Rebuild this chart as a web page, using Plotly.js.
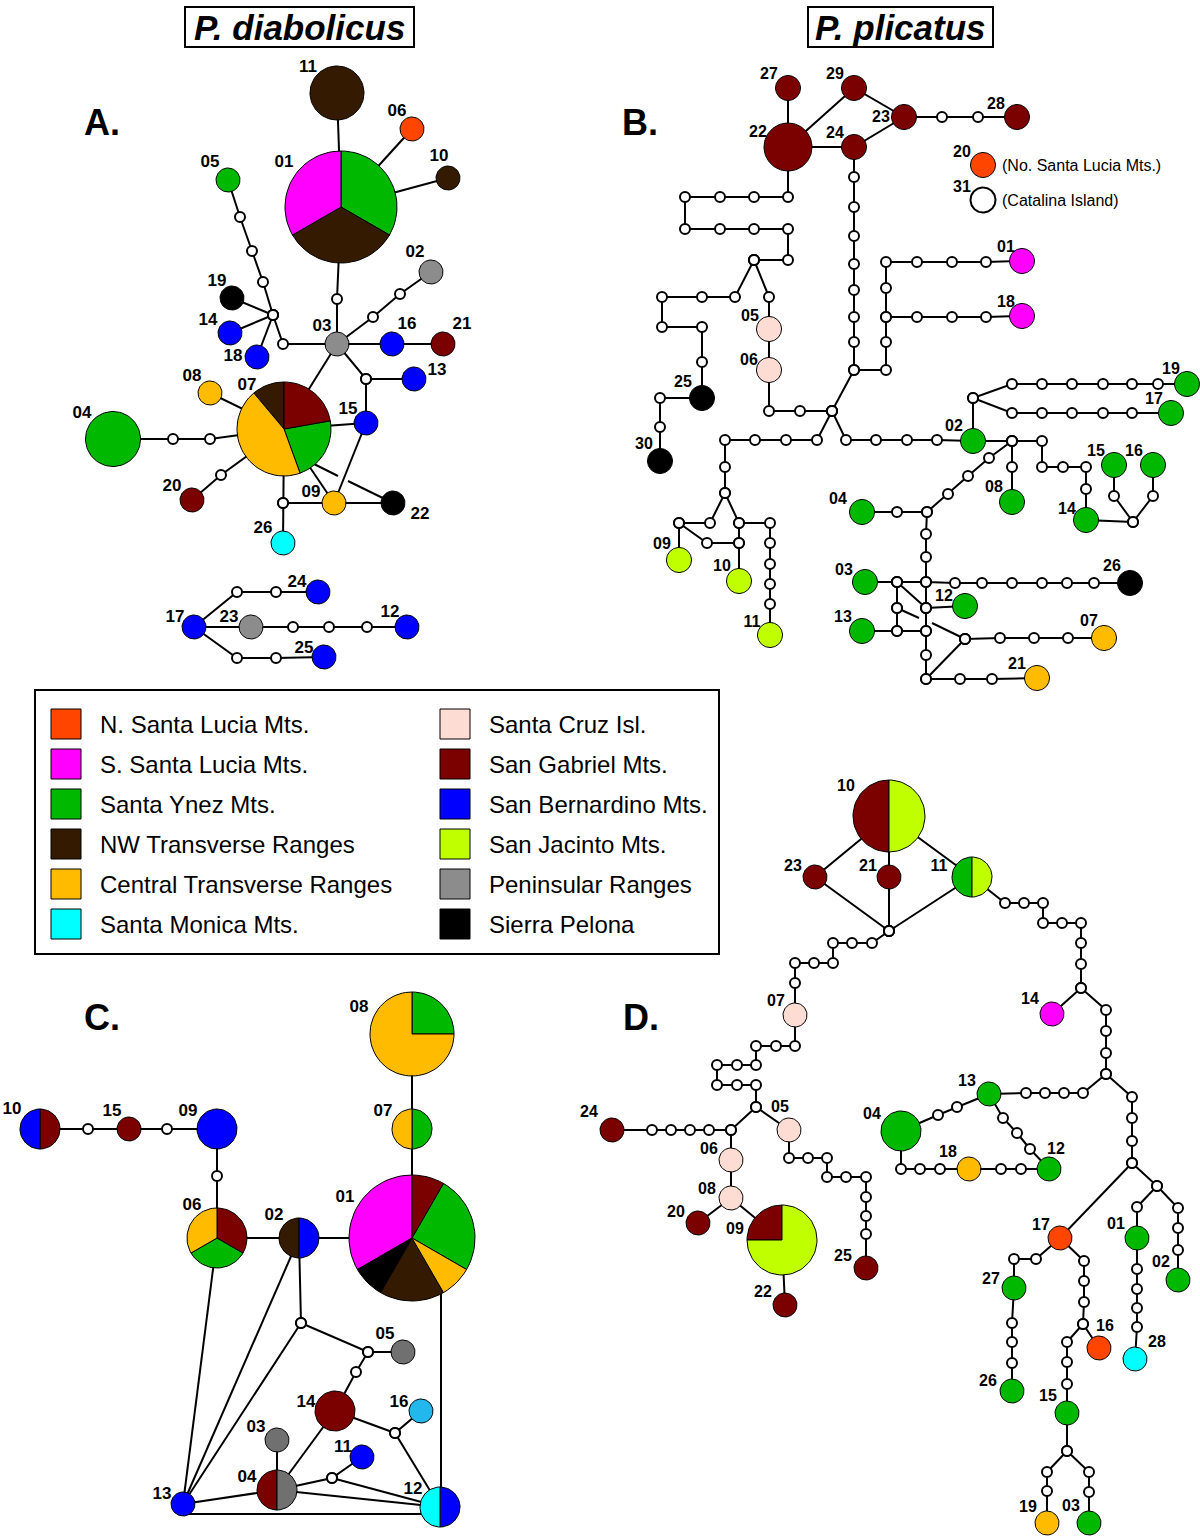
<!DOCTYPE html>
<html><head><meta charset="utf-8">
<script src="https://cdn.plot.ly/plotly-3.0.1.min.js"></script>
<style>html,body{margin:0;padding:0;background:#fff}#chart{width:1200px;height:1537px}</style>
</head><body><div id="chart"></div>
<script>
// ---------- regions (legend) ----------
const REGION_CODES  = ['NSL','SSL','SY','NW','CT','SM','SC','SG','SB','SJ','PR','SP'];
const REGION_NAMES  = ['N. Santa Lucia Mts.','S. Santa Lucia Mts.','Santa Ynez Mts.','NW Transverse Ranges','Central Transverse Ranges','Santa Monica Mts.',
                       'Santa Cruz Isl.','San Gabriel Mts.','San Bernardino Mts.','San Jacinto Mts.','Peninsular Ranges','Sierra Pelona'];
const REGION_COLORS = ['#FF4500','#FF00FF','#00B800','#331A00','#FFBB00','#00FFFF','#FDDCD3','#7B0000','#0000FF','#BFFF00','#8C8C8C','#000000'];
const EXTRA_CODES   = ['CAT','LB','PR2'];
const EXTRA_COLORS  = ['#FFFFFF','#22B8EE','#707070'];

// ---------- haplotype compositions (region code : count) ----------
const A_haps = [['01','SY NW SSL'],['02','PR'],['03','PR'],['04','SY'],['05','SY'],['06','NSL'],['07','SG:2 SY:2 CT:4 NW'],['08','CT'],['09','CT'],
  ['10','NW'],['11','NW'],['12','SB'],['13','SB'],['14','SB'],['15','SB'],['16','SB'],['17','SB'],['18','SB'],['19','SP'],['20','SG'],['21','SG'],
  ['22','SP'],['23','PR'],['24','SB'],['25','SB'],['26','SM']];
const B_haps = [['01','SSL'],['02','SY'],['03','SY'],['04','SY'],['05','SC'],['06','SC'],['07','CT'],['08','SY'],['09','SJ'],['10','SJ'],['11','SJ'],
  ['12','SY'],['13','SY'],['14','SY'],['15','SY'],['16','SY'],['17','SY'],['18','SSL'],['19','SY'],['20','NSL'],['21','CT'],['22','SG'],['23','SG'],
  ['24','SG'],['25','SP'],['26','SP'],['27','SG'],['28','SG'],['29','SG'],['30','SP'],['31','CAT']];
const C_haps = [['01','SG SY:3 CT NW:2 SP SSL:4'],['02','SB NW'],['03','PR2'],['04','PR2 SG'],['05','PR2'],['06','SG SY CT'],['07','SY CT'],
  ['08','SY CT:3'],['09','SB'],['10','SG SB'],['11','SB'],['12','SB SM'],['13','SB'],['14','SG'],['15','SG'],['16','LB']];
const D_haps = [['01','SY'],['02','SY'],['03','SY'],['04','SY'],['05','SC'],['06','SC'],['07','SC'],['08','SC'],['09','SJ:3 SG'],['10','SJ SG'],
  ['11','SJ SY'],['12','SY'],['13','SY'],['14','SSL'],['15','SY'],['16','NSL'],['17','NSL'],['18','CT'],['19','CT'],['20','SG'],['21','SG'],
  ['22','SG'],['23','SG'],['24','SG'],['25','SG'],['26','SY'],['27','SY'],['28','SM']];

// ---------- network layout: [id, x, y, radius, labelX, labelY] ----------
const A_layout = [['01',341,207,56,284,163],['02',431,272,12,415,253],['03',337,344,12,322,327],['04',113,439,27.5,82,414],['05',228,180,12,210,163],
  ['06',412,129,12,397,112],['07',284,429,47,247,386],['08',210,393,12,192,377],['09',334,503,12,311,493],['10',448,178,12,439,157],
  ['11',337,93,27,308,68],['12',407,627,12,390,613],['13',414,379,12,437,371],['14',230,333,12,208,321],['15',366,423,12,348,410],
  ['16',392,344,12,407,325],['17',194,627,12,175,618],['18',257,357,12,233,357],['19',232,298,12,217,282],['20',192,500,12,172,487],
  ['21',443,344,12,462,325],['22',393,503,12,420,515],['23',251,627,12,229,618],['24',318,592,12,297,583],['25',324,657,12,304,649],
  ['26',283,543,12,263,529]];
const B_layout = [['27',788,88,12.5,769,75],['29',854,88,12.5,835,75],['23',904,117,12.5,881,118],['28',1017,117,12.5,996,105],['22',788,147,24,758,133],
  ['24',854,147,12.5,835,134],['20',983,165,12.5,962,153],['31',983,200,12.5,962,188],['01',1022,261,12.5,1006,248],['18',1022,316,12.5,1006,303],
  ['05',769,329,12.5,750,317],['06',769,370,12.5,749,361],['25',702,398,12.5,683,383],['30',660,461,12.5,644,445],['02',973,441,12.5,954,427],
  ['19',1187,384,12.5,1171,370],['17',1171,413,12.5,1154,400],['08',1012,502,12.5,994,488],['15',1114,465,12.5,1096,452],['16',1153,465,12.5,1134,452],
  ['14',1086,520,12.5,1067,510],['04',862,512,12.5,838,500],['09',679,560,12.5,662,545],['10',739,581,12.5,722,567],['11',770,635,12.5,752,623],
  ['03',865,582,12.5,844,571],['26',1130,583,12.5,1112,567],['12',965,606,12.5,944,597],['13',862,631,12.5,843,618],['07',1104,638,12.5,1089,622],
  ['21',1037,678,12.5,1017,665]];
const C_layout = [['08',412,1034,42,359,1008],['07',412,1129,20,383,1112],['01',412,1238,63,345,1198],['09',217,1129,20,188,1112],
  ['15',129,1129,12,112,1112],['10',40,1129,20,12,1110],['06',217,1238,30,192,1206],['02',299,1238,20,274,1216],['13',183,1504,12,162,1495],
  ['04',277,1490,20,247,1478],['03',277,1440,12,256,1428],['14',335,1411,20,306,1403],['11',362,1457,12,343,1448],['16',421,1411,12,399,1403],
  ['05',403,1352,12,385,1335],['12',440,1507,20,413,1490]];
const D_layout = [['10',889,816,36,846,787],['23',815,877,12,793,867],['21',889,877,12,868,867],['11',972,877,20,939,867],['07',795,1015,12,776,1002],
  ['05',789,1130,12,780,1108],['24',612,1130,12,589,1113],['06',731,1160,12,709,1150],['08',731,1198,12,707,1190],['20',698,1223,12,676,1213],
  ['09',782,1240,35,735,1230],['22',785,1305,12,763,1293],['25',866,1268,12,843,1257],['14',1052,1014,12,1030,1000],['13',989,1094,12,967,1082],
  ['04',901,1131,20,872,1115],['12',1049,1169,12,1056,1150],['18',969,1169,12,948,1153],['17',1060,1238,12,1041,1226],['01',1137,1238,12,1116,1225],
  ['02',1178,1280,12,1161,1263],['27',1014,1288,12,991,1280],['26',1012,1391,12,988,1382],['16',1099,1348,12,1105,1327],['28',1135,1359,12,1157,1343],
  ['15',1067,1413,12,1048,1397],['19',1047,1523,12,1028,1508],['03',1089,1523,12,1071,1507]];

// ---------- network paths: haplotype ids and missing (median) haplotypes [x,y]; [x,y,0] = bare line end ----------
const A_paths = [
  ['11','01'],['01','06'],['01','10'],
  ['05',[240,217],[252,251],[263,282],[273,315],[283,344],'03'],
  ['19',[273,315]],['14',[273,315]],['18',[273,315]],
  ['01',[337,299],'03'],
  ['03',[373,317],[400,294],'02'],
  ['03','16','21'],
  ['03',[366,379],'13'],[[366,379],'15'],
  ['03','07'],['07','15'],['08','07'],
  ['04',[173,439],[210,439],'07'],
  ['20',[221,475],'07'],
  ['07',[283,503],'26'],[[283,503],'09'],['07','09'],['09','15'],['09','22'],
  [[312,463,0],[338,476,0]],[[348,481,0],'22'],
  ['17',[237,592],[276,592],'24'],
  ['17','23',[293,627],[329,627],[367,627],'12'],
  ['17',[237,658],[276,658],'25']
];
const B_paths = [
  ['22','27'],['22','29','23'],['22','24','23'],['23',[942,117],[978,117],'28'],
  ['22',[788,197],[754,197],[720,197],[685,197],[685,229],[720,229],[754,229],[788,229],[788,260],[754,260]],
  [[754,260],[735,297],[702,297],[662,297],[662,327],[702,327],[702,362],'25',[660,398],[660,427],'30'],
  [[754,260],[769,297],'05','06',[769,411],[800,411],[832,411]],
  ['24',[854,177],[854,207],[854,236],[854,264],[854,290],[854,317],[854,342],[854,370],[832,411]],
  [[854,370],[886,370],[886,342],[886,317],[886,288],[886,262],[917,262],[952,262],[986,262],'01'],
  [[886,317],[917,317],[952,317],[986,317],'18'],
  [[832,411],[817,440],[786,440],[755,440],[725,440],[725,467],[725,493],[710,523],[679,523],'09'],
  [[725,493],[739,523],[770,523],[770,543],[770,564],[770,584],[770,604],'11'],
  [[739,523],[739,543],'10'],[[679,523],[707,543],[739,543]],
  [[832,411],[846,440],[876,440],[907,440],[937,440],'02',[1012,441],[1042,441],[1042,467],[1063,467],[1086,467],[1086,489],'14',[1133,522],[1114,496],'15'],
  [[1133,522],[1153,496],'16'],
  ['02',[973,398],[1012,384],[1042,384],[1072,384],[1103,384],[1132,384],[1158,384],'19'],
  [[973,398],[1012,413],[1042,413],[1072,413],[1103,413],[1132,413],'17'],
  [[1012,441],[1012,467],'08'],
  [[1012,441],[989,458],[968,476],[948,494],[927,512],[897,512],'04'],
  [[927,512],[926,534],[926,557],[926,582],[926,608],[926,631],[926,655],[926,679],[960,679],[992,679],'21'],
  ['03',[897,582],[926,582],[955,583],[982,583],[1012,583],[1042,583],[1067,583],[1094,583],'26'],
  [[897,582],[897,608],[897,631],'13'],[[897,631],[926,631]],
  [[926,608],'12'],[[897,582],[926,608]],
  [[897,608],[919,618,0]],[[932,623,0],[965,639]],
  [[965,639],[1000,638],[1034,638],[1068,638],'07'],
  [[965,639],[926,679]]
];
const C_paths = [
  ['10',[88,1129],'15',[167,1129],'09',[217,1176],'06','02','01','07','08'],
  ['06','13'],['02','13'],['02',[301,1323],'13'],
  [[301,1323],[368,1352],'05'],[[368,1352],[356,1372],'14'],
  ['03','04'],['04','14'],['04',[332,1478],'11'],[[332,1478],'12'],['04','12'],['13','04'],
  [[183,1514,0],[440,1514,0]],
  ['14',[395,1433],'16'],[[395,1433],'12'],
  [[441,1290,0],[441,1500,0]]
];
const D_paths = [
  ['10','23',[889,931]],['10','21',[889,931]],['10','11',[889,931]],
  [[889,931],[872,943],[852,943],[833,943],[833,963],[814,963],[795,963],[795,983],'07',[795,1046],[776,1046],[756,1046],[756,1065],[737,1065],
   [717,1065],[717,1085],[737,1085],[756,1085],[756,1107],[731,1130],[709,1130],[690,1130],[671,1130],[652,1130],'24'],
  [[756,1107],'05',[789,1158],[808,1158],[827,1158],[827,1177],[846,1177],[866,1177],[866,1197],[866,1216],[866,1234],'25'],
  [[731,1130],'06','08','09','22'],['08','20'],
  ['11',[1005,903],[1024,903],[1043,903],[1043,923],[1062,923],[1081,923],[1081,943],[1081,964],[1081,988],'14'],
  [[1081,988],[1106,1010],[1106,1031],[1106,1053],[1106,1074],[1083,1093],[1064,1093],[1045,1093],[1026,1093],'13'],
  [[1106,1074],[1132,1097],[1132,1118],[1132,1141],[1132,1163],'17',[1036,1259],[1014,1259],'27',[1012,1323],[1012,1342],[1012,1363],'26'],
  ['13',[957,1107],[938,1115],'04',[901,1169],[920,1169],[940,1169],'18',[1001,1169],[1021,1169],'12',[1030,1149],[1017,1133],[1003,1118],'13'],
  [[1132,1163],[1157,1186],[1137,1207],'01',[1137,1269],[1137,1289],[1137,1308],[1137,1327],'28'],
  [[1157,1186],[1178,1208],[1178,1228],[1178,1250],'02'],
  ['17',[1084,1261],[1084,1281],[1084,1302],[1083,1324],'16'],
  [[1083,1324],[1067,1342],[1067,1362],[1067,1384],'15',[1067,1451],[1047,1472],[1047,1491],'19'],
  [[1067,1451],[1089,1472],[1089,1492],'03']
];

// ---------- build ----------
const colorOf = {};
REGION_CODES.forEach((c,i)=>colorOf[c]=REGION_COLORS[i]);
EXTRA_CODES.forEach((c,i)=>colorOf[c]=EXTRA_COLORS[i]);

const panels = [
  {haps:A_haps, layout:A_layout, paths:A_paths, fs:17},
  {haps:B_haps, layout:B_layout, paths:B_paths, fs:16},
  {haps:C_haps, layout:C_layout, paths:C_paths, fs:17},
  {haps:D_haps, layout:D_layout, paths:D_paths, fs:16}
];

const edgeX=[], edgeY=[], medX=[], medY=[];
const polys = {};
const colorOrder = [];
function addPoly(color, xs, ys){
  if(!polys[color]){ polys[color]={x:[],y:[]}; colorOrder.push(color); }
  const p = polys[color];
  if(p.x.length){ p.x.push(null); p.y.push(null); }
  p.x.push(...xs); p.y.push(...ys);
}
function parseComp(s){
  return s.split(' ').map(t=>{ const [c,n]=t.split(':'); return [c, n?+n:1]; });
}
const labelTraces = [];
panels.forEach(P=>{
  const pos = {};
  P.layout.forEach(r=>pos[r[0]]={x:r[1],y:r[2],r:r[3],lx:r[4],ly:r[5]});
  P.paths.forEach(path=>{
    path.forEach(it=>{
      if(typeof it==='string'){ edgeX.push(pos[it].x); edgeY.push(pos[it].y); }
      else { edgeX.push(it[0]); edgeY.push(it[1]); if(it.length<3){ medX.push(it[0]); medY.push(it[1]); } }
    });
    edgeX.push(null); edgeY.push(null);
  });
  const lx=[], ly=[], lt=[];
  P.haps.forEach(([id, compStr])=>{
    const p = pos[id]; const comp = parseComp(compStr);
    const total = comp.reduce((s,c)=>s+c[1],0);
    if(comp.length===1){
      const xs=[], ys=[];
      for(let i=0;i<=80;i++){ const t=i/80*2*Math.PI; xs.push(p.x+p.r*Math.sin(t)); ys.push(p.y-p.r*Math.cos(t)); }
      addPoly(colorOf[comp[0][0]], xs, ys);
    } else {
      let a=0;
      comp.forEach(([code,n])=>{
        const a1 = a + n/total*2*Math.PI;
        const steps = Math.max(3, Math.ceil((a1-a)/(2*Math.PI)*80));
        const xs=[p.x], ys=[p.y];
        for(let i=0;i<=steps;i++){ const t=a+(a1-a)*i/steps; xs.push(p.x+p.r*Math.sin(t)); ys.push(p.y-p.r*Math.cos(t)); }
        xs.push(p.x); ys.push(p.y);
        addPoly(colorOf[code], xs, ys);
        a = a1;
      });
    }
    lx.push(p.lx); ly.push(p.ly); lt.push(id);
  });
  labelTraces.push({type:'scatter', mode:'text', x:lx, y:ly, text:lt, textposition:'middle center',
    textfont:{family:'Liberation Sans, Arial, sans-serif', size:P.fs, color:'#000', weight:'bold'}, hoverinfo:'skip'});
});

const traces = [];
traces.push({type:'scatter', mode:'lines', x:edgeX, y:edgeY, line:{color:'#000', width:2}, hoverinfo:'skip', connectgaps:false});
traces.push({type:'scatter', mode:'markers', x:medX, y:medY, marker:{size:10, color:'#fff', line:{color:'#000', width:2}}, hoverinfo:'skip'});
colorOrder.forEach(c=>{
  traces.push({type:'scatter', mode:'lines', x:polys[c].x, y:polys[c].y, fill:'toself', fillcolor:c,
    line:{color:'#000', width: c==='#FFFFFF'?2:1}, hoverinfo:'skip', connectgaps:false});
});
labelTraces.forEach(t=>traces.push(t));

// legend swatches
const legX=[], legY=[], legC=[];
const annotations = [];
REGION_NAMES.forEach((name,i)=>{
  const col = i<6?0:1, row = i%6;
  const sx = col===0?66:455, cy = 724 + row*40;
  legX.push(sx); legY.push(cy); legC.push(REGION_COLORS[i]);
  annotations.push({x:sx+32, y:cy, xref:'x', yref:'y', text:name, showarrow:false, xanchor:'left', yanchor:'middle',
    font:{family:'Liberation Sans, Arial, sans-serif', size:24, color:'#000'}});
});
traces.push({type:'scatter', mode:'markers', x:legX, y:legY, marker:{symbol:'square', size:30, color:legC, line:{color:'#000', width:1}}, hoverinfo:'skip'});

// panel letters & titles & notes
[['A.',102,122],['B.',640,122],['C.',102,1017],['D.',641,1017]].forEach(([t,x,y])=>{
  annotations.push({x, y, xref:'x', yref:'y', text:'<b>'+t+'</b>', showarrow:false, xanchor:'center', yanchor:'middle',
    font:{family:'Liberation Sans, Arial, sans-serif', size:36, color:'#000'}});
});
[['P. diabolicus',299.5,27],['P. plicatus',900.5,27]].forEach(([t,x,y])=>{
  annotations.push({x, y, xref:'x', yref:'y', text:'<b><i>'+t+'</i></b>', showarrow:false, xanchor:'center', yanchor:'middle',
    font:{family:'Liberation Sans, Arial, sans-serif', size:35, color:'#000'}});
});
[['(No. Santa Lucia Mts.)',1000,165],['(Catalina Island)',1000,200]].forEach(([t,x,y])=>{
  annotations.push({x, y, xref:'x', yref:'y', text:t, showarrow:false, xanchor:'left', yanchor:'middle',
    font:{family:'Liberation Sans, Arial, sans-serif', size:16, color:'#000'}});
});

const shapes = [
  {type:'rect', xref:'x', yref:'y', x0:35, y0:690, x1:719, y1:954, line:{color:'#000', width:2}},
  {type:'rect', xref:'x', yref:'y', x0:185, y0:7, x1:414, y1:47, line:{color:'#000', width:2}},
  {type:'rect', xref:'x', yref:'y', x0:808, y0:7, x1:993, y1:47, line:{color:'#000', width:2}}
];

const layout = {
  width:1200, height:1537, margin:{l:0,r:0,t:0,b:0}, paper_bgcolor:'#fff', plot_bgcolor:'#fff', showlegend:false,
  xaxis:{range:[0,1200], visible:false, fixedrange:true},
  yaxis:{range:[1537,0], visible:false, fixedrange:true},
  annotations, shapes, hovermode:false
};
Plotly.newPlot('chart', traces, layout, {displayModeBar:false, staticPlot:true});
</script></body></html>
